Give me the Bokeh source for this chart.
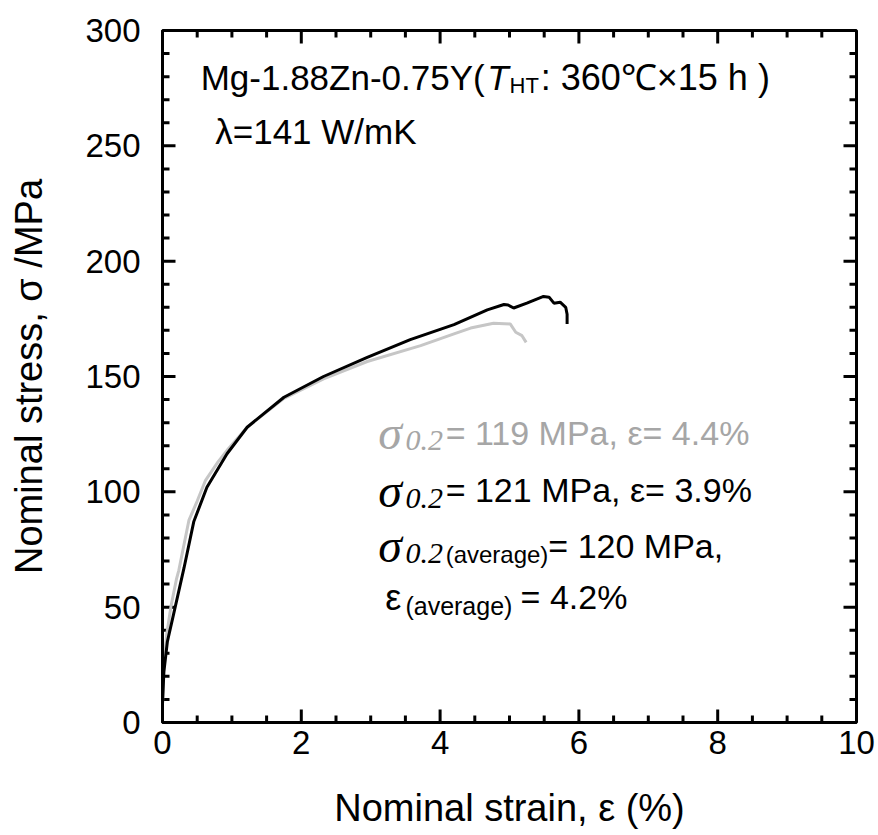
from bokeh.plotting import figure
from bokeh.models import Range1d, Label
from bokeh.embed import file_html
from bokeh.resources import INLINE

# ---------------- data ----------------
strain_black = [0.0, 0.02, 0.07, 0.115, 0.16, 0.22, 0.31, 0.45, 0.64, 0.93, 1.22, 1.75,
                2.32, 2.95, 3.57, 4.20, 4.68, 4.92, 4.98, 5.06, 5.25, 5.49, 5.57, 5.64,
                5.73, 5.81, 5.83, 5.83]
stress_black = [8, 22, 35, 41, 47, 55, 67, 87, 102, 116.5, 128, 141,
                150, 158.3, 166, 172.5, 178.9, 181.2, 181, 179.7, 181.8, 184.7, 184.4, 181.8,
                182.2, 180, 177, 172.8]

strain_gray = [0.0, 0.02, 0.06, 0.12, 0.20, 0.235, 0.38, 0.50, 0.62, 0.80, 0.93, 1.22, 1.75,
               2.32, 2.95, 3.72, 4.20, 4.44, 4.77, 5.01, 5.09, 5.18, 5.24]
stress_gray = [8, 25, 38, 50, 62, 66, 87.6, 96, 105, 113, 118, 128, 140.5,
               149, 156.5, 163.4, 168.5, 171, 173.1, 172.8, 169.2, 167.7, 164.8]

x_min, x_max, x_major, x_minor = 0, 10, 2, 0.5
y_min, y_max, y_major, y_minor = 0, 300, 50, 10

title_parts = ["Mg-1.88Zn-0.75Y(", "T", "HT", ": 360℃×15 h )"]
lambda_text = "λ=141 W/mK"
line1 = ["σ", "0.2", "= 119 MPa, ε= 4.4%"]
line2 = ["σ", "0.2", "= 121 MPa, ε= 3.9%"]
line3 = ["σ", "0.2", "(average)", "= 120 MPa,"]
line4 = ["ε", "(average)", "= 4.2%"]

SANS = "Liberation Sans, Arial, sans-serif"
SERIF = "Liberation Serif, Times New Roman, serif"

p = figure(width=878, height=835, output_backend="svg", toolbar_location=None,
           x_range=Range1d(x_min, x_max), y_range=Range1d(y_min, y_max),
           min_border_left=162, min_border_right=22, min_border_top=30, min_border_bottom=113,
           x_axis_label="Nominal strain, ε (%)", y_axis_label="Nominal stress, σ /MPa")
p.grid.visible = False
p.outline_line_color = "black"
p.outline_line_width = 3

for ax in (p.xaxis[0], p.yaxis[0]):
    ax.axis_line_width = 3
    ax.major_tick_in = 0
    ax.major_tick_out = 0
    ax.minor_tick_in = 0
    ax.minor_tick_out = 0
    ax.major_label_text_font = SANS
    ax.major_label_text_font_size = "33px"
    ax.major_label_text_color = "#000000"
    ax.axis_label_text_font = SANS
    ax.axis_label_text_font_size = "38px"
    ax.axis_label_text_font_style = "normal"
    ax.axis_label_text_color = "#000000"

p.xaxis[0].major_label_standoff = 8
p.xaxis[0].axis_label_standoff = 30
p.yaxis[0].major_label_standoff = 22
p.yaxis[0].axis_label_standoff = 32

# inward ticks on all four sides, derived from the axis settings (filled bars)
px_x = (x_max - x_min) / 694.0
px_y = (y_max - y_min) / 692.0
maj_len, min_len, tick_w = 13, 7, 3


def steps(lo, hi, step):
    n = int(round((hi - lo) / step))
    return [lo + i * step for i in range(n + 1)]


xs_major = steps(x_min, x_max, x_major)
xs_minor = [v for v in steps(x_min, x_max, x_minor) if abs(v / x_major - round(v / x_major)) > 1e-6]
ys_major = steps(y_min, y_max, y_major)
ys_minor = [v for v in steps(y_min, y_max, y_minor) if abs(v / y_major - round(v / y_major)) > 1e-6]

vx, vy, vh = [], [], []
for xs, L in [(xs_major, maj_len), (xs_minor, min_len)]:
    for v in xs:
        vx += [float(v), float(v)]
        vy += [float(y_min + L * px_y / 2), float(y_max - L * px_y / 2)]
        vh += [float(L), float(L)]
p.rect(x=vx, y=vy, width=[float(tick_w)] * len(vx), height=vh,
       width_units="screen", height_units="screen",
       fill_color="#000000", line_color=None)

hx, hy, hw = [], [], []
for ys, L in [(ys_major, maj_len), (ys_minor, min_len)]:
    for v in ys:
        hx += [float(x_min + L * px_x / 2), float(x_max - L * px_x / 2)]
        hy += [float(v), float(v)]
        hw += [float(L), float(L)]
p.rect(x=hx, y=hy, width=hw, height=[float(tick_w)] * len(hx),
       width_units="screen", height_units="screen",
       fill_color="#000000", line_color=None)

p.line(strain_gray, stress_gray, line_color="#c6c6c6", line_width=3)
p.line(strain_black, stress_black, line_color="black", line_width=3)


def add(x, y, text, font=SANS, size="34px", style="normal", color="black"):
    p.add_layout(Label(x=x, y=y, text=text, text_font=font, text_font_size=size,
                       text_font_style=style, text_color=color, text_baseline="middle",
                       text_align="left"))


# title line
add(0.55, 279.6, title_parts[0], size="35px")
add(4.68, 279.6, title_parts[1], size="35px", style="italic")
add(5.00, 276.0, title_parts[2], size="22px")
add(5.45, 279.6, title_parts[3], size="36px")
add(0.76, 256.2, lambda_text, size="35px")

gray_t = "#a6a6a6"
for yv, parts, col in [(125.7, line1, gray_t), (100.6, line2, "black")]:
    add(3.11, yv, parts[0], font=SERIF, size="48px", style="italic", color=col)
    add(3.50, yv - 3.5, parts[1], font=SERIF, size="30px", style="italic", color=col)
    add(4.08, yv, parts[2], size="34px", color=col)

add(3.11, 76.7, line3[0], font=SERIF, size="48px", style="italic")
add(3.50, 73.2, line3[1], font=SERIF, size="30px", style="italic")
add(4.08, 73.0, line3[2], size="24px")
add(5.56, 76.7, line3[3], size="34px")

add(3.21, 54.2, line4[0], size="36px")
add(3.50, 50.3, line4[1], size="25px")
add(5.16, 54.2, line4[2], size="34px")

open("out.html", "w").write(file_html(p, INLINE))
